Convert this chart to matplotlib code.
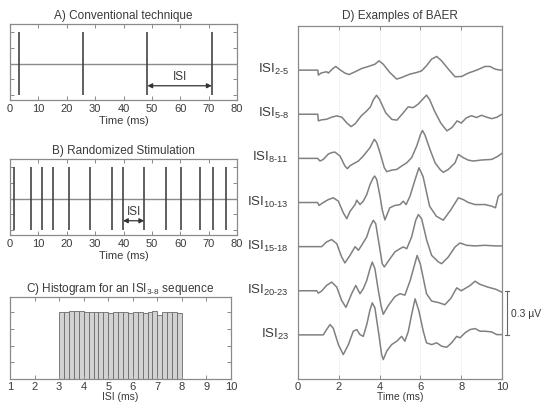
import numpy as np
import matplotlib
matplotlib.use('Agg')
import matplotlib.pyplot as plt

plt.rcParams['font.family'] = ['Liberation Sans', 'DejaVu Sans']
plt.rcParams['mathtext.fontset'] = 'custom'
plt.rcParams['mathtext.rm'] = 'Liberation Sans'
plt.rcParams['mathtext.it'] = 'Liberation Sans:italic'

# panel A / B: stimulus times (ms)
conv_times = [3.0, 25.7, 48.4, 71.1]
rand_times = [1.5, 7.5, 11.1, 15.2, 20.8, 28.3, 36.0, 39.8, 47.3, 54.8, 60.2, 66.9, 71.6, 76.1]

# panel C: histogram of ISI 3-8 sequence
hist_bins = np.round(np.arange(3.0, 8.0, 0.2), 1)
hist_counts = [199, 201, 203, 202, 204, 200, 199, 200, 200, 199, 198, 201, 201,
               199, 197, 199, 200, 197, 199, 202, 192, 201, 200, 199, 198]

# panel D: averaged BAER traces (time in ms, amplitude in uV)
isi_labels = ['2-5', '5-8', '8-11', '10-13', '15-18', '20-23', '23']

t_2_5 = [0, 0.97, 1.0, 1.13, 1.24, 1.4, 1.49, 1.68, 1.85, 2.06, 2.3, 2.5, 2.8, 3.12, 3.45, 3.77,
         3.97, 4.18, 4.5, 4.84, 5.08, 5.49, 5.82, 6.06, 6.3, 6.55, 6.8, 7.04, 7.37, 7.7, 8.02,
         8.35, 8.76, 9.17, 9.41, 9.66, 9.9, 10]
v_2_5 = [0, 0, -0.034, -0.02, -0.016, -0.011, -0.02, 0.007, 0.025, 0.002, -0.02, -0.03, -0.011,
         0.011, 0.025, 0.04, 0.063, 0.04, -0.016, -0.061, -0.05, -0.027, -0.016, -0.005, 0.03,
         0.075, 0.093, 0.063, 0.007, -0.045, -0.043, -0.02, 0.0, 0.025, 0.025, 0.007, 0.0, 0.002]

t_5_8 = [0, 0.97, 1.0, 1.15, 1.4, 1.65, 1.9, 2.15, 2.4, 2.6, 2.8, 3.1, 3.35, 3.55, 3.7, 3.85,
         4.0, 4.3, 4.6, 4.85, 5.1, 5.4, 5.65, 5.9, 6.1, 6.3, 6.45, 6.7, 7.0, 7.3, 7.55, 7.8, 8.0,
         8.25, 8.5, 8.75, 9.0, 9.25, 9.5, 9.75, 10]
v_5_8 = [0, 0, -0.045, -0.038, -0.034, -0.02, -0.011, -0.02, -0.06, -0.084, -0.065, -0.011,
         0.02, 0.05, 0.1, 0.129, 0.1, 0.01, -0.035, -0.04, 0.0, 0.05, 0.045, 0.07, 0.1, 0.13,
         0.1, 0.02, -0.06, -0.113, -0.09, -0.045, -0.06, -0.025, -0.01, -0.022, -0.007, -0.02,
         -0.03, -0.02, 0.0]

t_8_11 = [0, 0.96, 1.08, 1.24, 1.49, 1.65, 1.81, 2.06, 2.3, 2.42, 2.55, 2.8, 2.96, 3.2, 3.53,
          3.74, 3.86, 4.07, 4.23, 4.35, 4.59, 4.84, 5.08, 5.33, 5.57, 5.82, 6.0, 6.1, 6.22, 6.47,
          6.72, 6.96, 7.12, 7.37, 7.7, 7.86, 8.1, 8.35, 8.6, 9.0, 9.5, 9.82, 10]
v_8_11 = [0, 0, -0.018, -0.007, 0.03, 0.039, 0.043, 0.016, -0.052, -0.07, -0.05, -0.03, -0.018,
          0.016, 0.073, 0.13, 0.107, 0.016, -0.064, -0.09, -0.08, -0.075, -0.052, -0.03, 0.005,
          0.084, 0.16, 0.19, 0.16, 0.061, -0.03, -0.075, -0.095, -0.075, -0.03, 0.027, 0.005,
          -0.012, -0.018, -0.011, -0.007, 0.016, 0.035]

t_10_13 = [0, 0.96, 1.03, 1.24, 1.49, 1.73, 1.98, 2.22, 2.39, 2.55, 2.8, 2.88, 3.04, 3.2, 3.37,
           3.53, 3.69, 3.76, 3.86, 4.02, 4.13, 4.26, 4.5, 4.75, 5.0, 5.16, 5.3, 5.49, 5.74, 5.93,
           6.13, 6.45, 6.78, 7.12, 7.5, 7.86, 8.1, 8.35, 8.68, 9.17, 9.5, 9.68, 9.82, 10]
v_10_13 = [0, 0, -0.02, 0.0, 0.02, 0.032, 0.009, -0.07, -0.11, -0.06, -0.014, 0.016, -0.014,
           0.009, 0.054, 0.122, 0.168, 0.18, 0.156, 0.043, -0.05, -0.118, -0.036, -0.02, -0.014,
           0.009, -0.014, 0.043, 0.156, 0.236, 0.177, -0.025, -0.093, -0.12, -0.048, 0.032, 0.02,
           0.0, -0.014, -0.014, -0.025, -0.036, 0.043, 0.06]

t_15_18 = [0, 1.16, 1.4, 1.65, 1.9, 2.14, 2.3, 2.55, 2.8, 2.96, 3.12, 3.37, 3.53, 3.69, 3.81,
           3.97, 4.13, 4.23, 4.51, 4.75, 5.0, 5.16, 5.33, 5.57, 5.77, 5.9, 6.06, 6.31, 6.55, 6.88,
           7.04, 7.37, 7.7, 7.94, 8.27, 8.68, 9.17, 9.66, 10]
v_15_18 = [0, 0, 0.032, 0.048, 0.02, -0.07, -0.111, -0.059, 0.0, -0.025, 0.009, 0.066, 0.134,
           0.179, 0.156, 0.02, -0.116, -0.138, -0.082, -0.036, -0.014, -0.002, -0.014, 0.066,
           0.179, 0.218, 0.19, 0.043, -0.059, -0.104, -0.116, -0.07, -0.002, 0.025, 0.009, 0.005,
           0.009, 0.005, 0.005]

t_20_23 = [0, 0.92, 1.0, 1.16, 1.4, 1.65, 1.9, 2.14, 2.35, 2.63, 2.83, 3.04, 3.2, 3.37, 3.53,
           3.64, 3.77, 3.94, 4.07, 4.18, 4.43, 4.75, 5.0, 5.24, 5.5, 5.7, 5.84, 6.0, 6.3, 6.55,
           6.88, 7.2, 7.5, 7.78, 8.0, 8.43, 8.68, 8.9, 9.3, 9.7, 10]
v_20_23 = [0, 0, -0.016, -0.002, 0.036, 0.059, 0.025, -0.066, -0.113, -0.02, 0.036, -0.02, 0.014,
           0.07, 0.15, 0.195, 0.15, 0.0, -0.1, -0.16, -0.1, -0.04, -0.02, -0.03, 0.07, 0.17,
           0.24, 0.18, -0.02, -0.07, -0.08, -0.095, -0.05, 0.02, 0.0, 0.035, 0.065, 0.045,
           0.025, 0.01, -0.01]

t_23 = [0, 1.24, 1.4, 1.57, 1.73, 1.98, 2.22, 2.47, 2.71, 2.88, 3.04, 3.2, 3.37, 3.53, 3.64,
        3.77, 3.94, 4.1, 4.18, 4.35, 4.59, 4.84, 5.08, 5.24, 5.41, 5.57, 5.74, 5.93, 6.14, 6.3,
        6.55, 6.8, 7.04, 7.29, 7.53, 7.78, 7.94, 8.19, 8.43, 8.68, 8.92, 9.17, 9.5, 9.74, 10]
v_23 = [0, 0, 0.036, 0.07, 0.045, -0.066, -0.134, -0.066, 0.025, 0.036, 0.002, -0.01, 0.07,
        0.17, 0.218, 0.184, 0.025, -0.134, -0.168, -0.11, -0.066, -0.043, -0.01, -0.043, 0.025,
        0.138, 0.245, 0.161, 0.025, -0.054, -0.066, -0.054, -0.077, -0.084, -0.054, -0.01,
        -0.02, 0.014, 0.036, 0.043, 0.025, 0.025, 0.02, 0.002, 0.002]

traces = [(t_2_5, v_2_5), (t_5_8, v_5_8), (t_8_11, v_8_11), (t_10_13, v_10_13),
          (t_15_18, v_15_18), (t_20_23, v_20_23), (t_23, v_23)]
spacing = 0.3  # uV between traces (= scale bar)

AX_COL = '#8a8a8a'
TXT_COL = '#3a3a3a'


def style_box(ax):
    for s in ax.spines.values():
        s.set_color(AX_COL)
        s.set_linewidth(0.9)
    ax.tick_params(direction='in', length=3, width=0.7, color=AX_COL,
                   top=True, right=True, labelsize=8, labelcolor=TXT_COL, pad=2.5)


def stim_panel(ax, times, title, arrow_from, arrow_to):
    ax.axhline(0, color='#8a8a8a', lw=1.0)
    ax.vlines(times, -1, 1, color='#444444', lw=1.2)
    ax.set_xlim(0, 80)
    ax.set_ylim(-1.15, 1.25)
    ax.set_xticks(range(0, 81, 10))
    ax.set_yticks([-1, -0.5, 0, 0.5, 1])
    ax.set_yticklabels([])
    ax.annotate('', xy=(arrow_from, -0.7), xytext=(arrow_to, -0.7),
                arrowprops=dict(arrowstyle='<|-|>', color='#333333', lw=0.9,
                                mutation_scale=7, shrinkA=0, shrinkB=0))
    ax.text((arrow_from + arrow_to) / 2, -0.38, 'ISI', ha='center', va='center',
            fontsize=8.5, color=TXT_COL)
    ax.set_xlabel('Time (ms)', fontsize=8, color=TXT_COL, labelpad=1)
    ax.set_title(title, fontsize=8.5, color=TXT_COL, pad=4)
    style_box(ax)


fig = plt.figure(figsize=(5.42, 4.06), dpi=100)

axA = fig.add_axes([0.0185, 0.7512, 0.4188, 0.1872])
stim_panel(axA, conv_times, 'A) Conventional technique', conv_times[2], conv_times[3])

axB = fig.add_axes([0.0185, 0.4187, 0.4188, 0.1872])
stim_panel(axB, rand_times, 'B) Randomized Stimulation', rand_times[7], rand_times[8])

axC = fig.add_axes([0.0185, 0.064, 0.4077, 0.202])
axC.bar(hist_bins, hist_counts, width=0.2, align='edge', color='#d2d2d2',
        edgecolor='#6a6a6a', linewidth=0.6)
axC.set_xlim(1, 10)
axC.set_ylim(0, 245)
axC.set_xticks(range(1, 11))
axC.set_yticks([0, 50, 100, 150, 200])
axC.set_yticklabels([])
axC.set_xlabel('ISI (ms)', fontsize=7.5, color=TXT_COL, labelpad=0)
axC.set_title(r'C) Histogram for an ISI$_{\mathrm{3\text{-}8}}$ sequence', fontsize=8.5,
              color=TXT_COL, pad=4)
style_box(axC)
axC.tick_params(pad=1.5)

axD = fig.add_axes([0.5498, 0.064, 0.3764, 0.8695])
n = len(traces)
for i, (t, v) in enumerate(traces):
    base = spacing * (n - i)
    axD.plot(t, np.array(v) + base, color='#808080', lw=1.1, solid_joinstyle='round')
    lab = isi_labels[i].replace('-', r'\text{-}')
    axD.text(-0.45, base + 0.01, r'ISI$_{\mathrm{' + lab + '}}$', ha='right', va='center',
             fontsize=9.5, color=TXT_COL)
axD.set_xlim(0, 10)
axD.set_ylim(0, spacing * (n + 1))
axD.set_xticks(range(0, 11, 2))
axD.set_yticks([])
for gx in [2, 4, 6, 8]:
    axD.axvline(gx, color='#e2e2e2', lw=0.7, ls=':', zorder=0)
axD.set_xlabel('Time (ms)', fontsize=7.5, color=TXT_COL, labelpad=0)
axD.set_title('D) Examples of BAER', fontsize=8.5, color=TXT_COL, pad=6)
style_box(axD)
axD.tick_params(right=False, left=False, pad=1.5)

# scale bar 0.3 uV
sb_x = 10.25
axD.plot([sb_x, sb_x], [spacing, 2 * spacing], color='#666666', lw=0.8, clip_on=False)
axD.plot([sb_x - 0.1, sb_x + 0.1], [spacing, spacing], color='#666666', lw=0.8, clip_on=False)
axD.plot([sb_x - 0.1, sb_x + 0.1], [2 * spacing, 2 * spacing], color='#666666', lw=0.8,
         clip_on=False)
axD.text(sb_x + 0.2, 1.5 * spacing, '0.3 \u00b5V', ha='left', va='center', fontsize=7.5,
         color=TXT_COL)

fig.savefig('out.png', dpi=100)
